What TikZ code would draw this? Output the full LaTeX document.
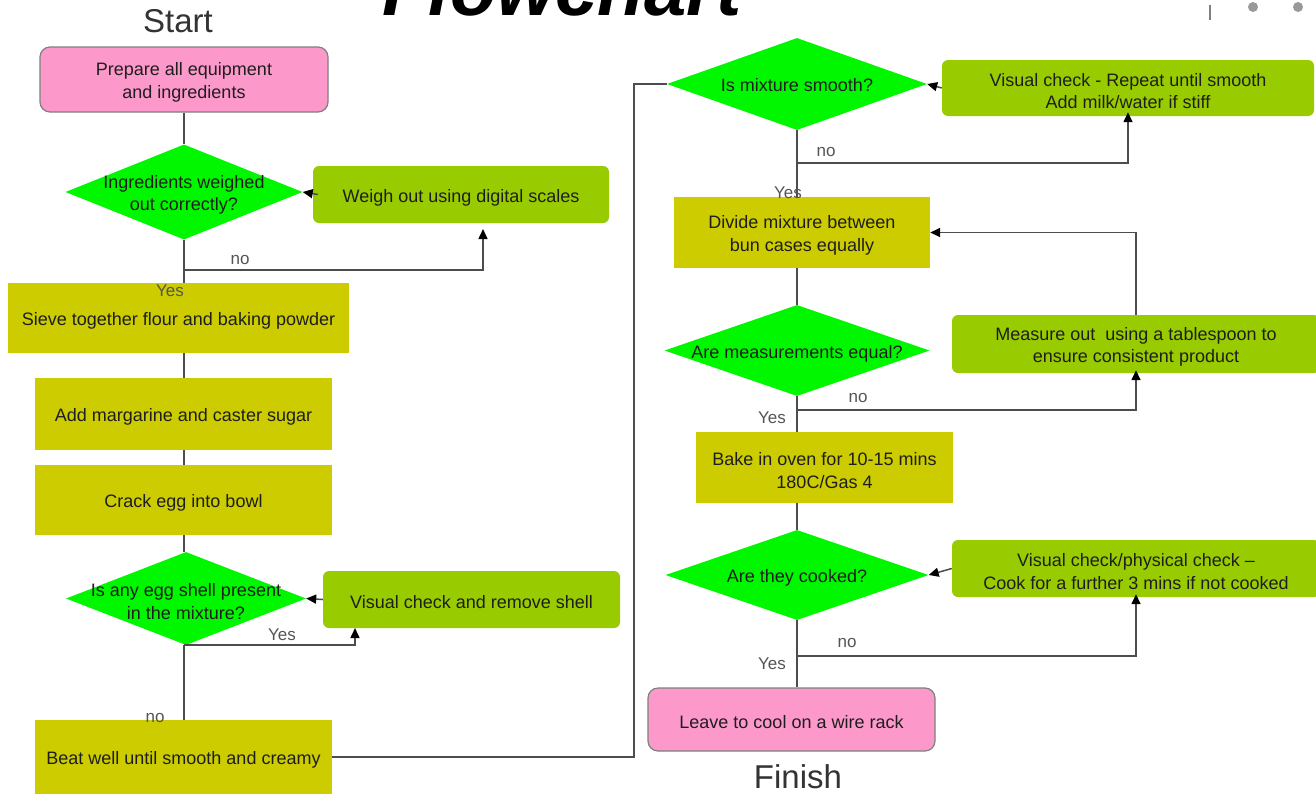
\documentclass[tikz,border=0pt]{standalone}
\usepackage{fontspec}
\setmainfont{Liberation Sans}
\usetikzlibrary{shapes.geometric,arrows.meta}
\definecolor{pinkc}{HTML}{FC98CA}
\definecolor{greend}{HTML}{00F700}
\definecolor{lgreen}{HTML}{99CC00}
\definecolor{olive}{HTML}{CCCC00}
\definecolor{linec}{HTML}{4D4D4D}
\definecolor{txtc}{HTML}{1E1E1E}
\definecolor{lblc}{HTML}{555555}
\tikzset{
  boxtxt/.style={text=txtc, font=\fontsize{18}{22.5}\selectfont, align=center, inner sep=0pt, yshift=-3pt},
  pinkbox/.style={draw=gray, line width=1.2pt, fill=pinkc, rounded corners=10pt, inner sep=0pt},
  greenbox/.style={fill=lgreen, rounded corners=6pt, inner sep=0pt},
  olivebox/.style={fill=olive, inner sep=0pt},
  decision/.style={diamond, fill=greend, inner sep=0pt},
  lbl/.style={text=lblc, font=\fontsize{17}{20}\selectfont, inner sep=0pt},
  conn/.style={draw=linec, line width=1.5pt},
  arr/.style={conn, -{Triangle[length=10pt,width=9pt,color=black]}},
  big/.style={text=black!80, font=\fontsize{33}{36}\selectfont, inner sep=0pt, anchor=base}
}
\begin{document}
\begin{tikzpicture}[x=1pt,y=-1pt]
\useasboundingbox (0,0) rectangle (1316,795);
\clip (0,0) rectangle (1316,795);
\fill[white] (0,0) rectangle (1316,795);

% title (cut off at top, as in the reference)
\node[anchor=base, inner sep=0pt, font=\fontsize{76}{80}\selectfont\bfseries\itshape] (title) at (562,16) {Flowchart};
% window artefacts top right
\draw[gray, line width=1.5pt] (1210,5) -- (1210,20);
\fill[gray!80] (1253,7) circle (5);
\fill[gray!80] (1298,7) circle (5);

\node[big] (start) at (178,32) {Start};
\node[big] (finish) at (798,788) {Finish};

% left column
\node[pinkbox, minimum width=288pt, minimum height=65pt,
      label={[boxtxt]center:Prepare all equipment\\and ingredients}] (p1) at (184,79.5) {};
\node[decision, minimum width=237pt, minimum height=95pt,
      label={[boxtxt]center:Ingredients weighed\\out correctly?}] (d1) at (184,192) {};
\node[greenbox, minimum width=296pt, minimum height=57pt,
      label={[boxtxt]center:Weigh out using digital scales}] (w1) at (461,194.5) {};
\node[olivebox, minimum width=341pt, minimum height=70pt,
      label={[boxtxt]center:Sieve together flour and baking powder}] (s1) at (178.5,318) {};
\node[olivebox, minimum width=297pt, minimum height=72pt,
      label={[boxtxt]center:Add margarine and caster sugar}] (a1) at (183.5,414) {};
\node[olivebox, minimum width=297pt, minimum height=70pt,
      label={[boxtxt]center:Crack egg into bowl}] (e1) at (183.5,500) {};
\node[decision, minimum width=240pt, minimum height=93pt,
      label={[boxtxt]center:Is any egg shell present\\in the mixture?}] (d3) at (186,598.5) {};
\node[greenbox, minimum width=297pt, minimum height=57pt,
      label={[boxtxt]center:Visual check and remove shell}] (w3) at (471.5,599.5) {};
\node[olivebox, minimum width=297pt, minimum height=74pt,
      label={[boxtxt]center:Beat well until smooth and creamy}] (b1) at (183.5,757) {};

% right column
\node[decision, minimum width=260pt, minimum height=92pt,
      label={[boxtxt,yshift=2pt]center:Is mixture smooth?}] (d4) at (797,84) {};
\node[greenbox, minimum width=372pt, minimum height=56pt,
      label={[boxtxt]center:Visual check - Repeat until smooth\\Add milk/water if stiff}] (w4) at (1128,88) {};
\node[olivebox, minimum width=256pt, minimum height=71pt,
      label={[boxtxt]center:Divide mixture between\\bun cases equally}] (dv) at (802,232.5) {};
\node[decision, minimum width=265pt, minimum height=91pt,
      label={[boxtxt]center:Are measurements equal?}] (d5) at (797,350.5) {};
\node[greenbox, minimum width=368pt, minimum height=58pt,
      label={[boxtxt]center:Measure out\ \ using a tablespoon to\\ensure consistent product}] (w5) at (1136,344) {};
\node[olivebox, minimum width=257pt, minimum height=71pt,
      label={[boxtxt]center:Bake in oven for 10-15 mins\\180C/Gas 4}] (bk) at (824.5,467.5) {};
\node[decision, minimum width=263pt, minimum height=90pt,
      label={[boxtxt]center:Are they cooked?}] (d6) at (797,575) {};
\node[greenbox, minimum width=368pt, minimum height=57pt,
      label={[boxtxt]center:Visual check/physical check --\\Cook for a further 3 mins if not cooked}] (w6) at (1136,568.5) {};
\node[pinkbox, minimum width=287pt, minimum height=63pt,
      label={[boxtxt]center:Leave to cool on a wire rack}] (lc) at (791.5,719.5) {};

% axes and junction coordinates
\coordinate (axL) at (184,0);
\coordinate (axR) at (797,0);
\coordinate (j1) at (184,270);
\coordinate (t1) at (483,229);
\coordinate (t3) at (355,628);
\coordinate (k) at (634,84);
\coordinate (j4) at (797,163);
\coordinate (j5) at (797,410);
\coordinate (j6) at (797,656);

% left connectors
\draw[conn] (p1.south) -- (d1.north);
\draw[arr] ([xshift=5pt]w1.west) -- (d1.east);
\draw[conn] (d1.south) -- (j1);
\draw[arr] (j1) -| (t1);
\draw[conn] (j1) -- (s1.north -| axL);
\draw[conn] (s1.south -| axL) -- (a1.north -| axL);
\draw[conn] (a1.south -| axL) -- (e1.north -| axL);
\draw[conn] (e1.south -| axL) -- (d3.north -| axL);
\draw[arr] (w3.west) -- (d3.east);
\draw[arr] (d3.south -| axL) -| (t3);
\draw[conn] (d3.south -| axL) -- (b1.north -| axL);
\draw[conn] (b1.east) -| (k) -- (d4.west);

% right connectors
\draw[arr] (w4.west) -- (d4.east);
\draw[conn] (d4.south) -- (j4);
\draw[arr] (j4) -| ([yshift=4pt]w4.south);
\draw[conn] (j4) -- (dv.north -| axR);
\draw[arr] (w5.north) |- (dv.east);
\draw[conn] (dv.south -| axR) -- (d5.north);
\draw[conn] (d5.south) -- (j5);
\draw[arr] (j5) -| ([yshift=3pt]w5.south);
\draw[conn] (j5) -- (bk.north -| axR);
\draw[conn] (bk.south -| axR) -- (d6.north);
\draw[arr] (w6.west) -- (d6.east);
\draw[conn] (d6.south) -- (j6);
\draw[arr] (j6) -| ([yshift=3pt]w6.south);
\draw[conn] (j6) -- (lc.north -| axR);

% branch labels
\node[lbl] (no1) at (240,260) {no};
\node[lbl] (yes1) at (170,291) {Yes};
\node[lbl] (yes3) at (282,635) {Yes};
\node[lbl] (no3) at (155,718) {no};
\node[lbl] (no4) at (826,152) {no};
\node[lbl] (yes4) at (788,193) {Yes};
\node[lbl] (no5) at (858,398) {no};
\node[lbl] (yes5) at (772,418) {Yes};
\node[lbl] (no6) at (847,643) {no};
\node[lbl] (yes6) at (772,664) {Yes};
\end{tikzpicture}
\end{document}
